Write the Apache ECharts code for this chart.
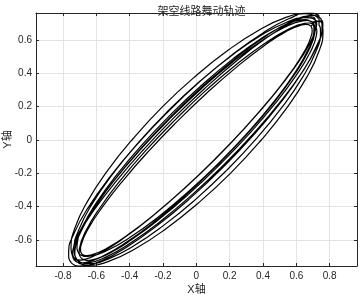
<!DOCTYPE html>
<html><head><meta charset="utf-8">
<script src="https://cdn.jsdelivr.net/npm/echarts@6/dist/echarts.min.js"></script>
<style>html,body{margin:0;padding:0;background:#fff}#c{width:360px;height:297px}</style>
</head><body><div id="c"></div>
<script>
const titleText = '架空线路舞动轨迹';
const xName = 'X轴';
const yName = 'Y轴';
const xTicks = [-0.8, -0.6, -0.4, -0.2, 0, 0.2, 0.4, 0.6, 0.8];
const yTicks = [-0.6, -0.4, -0.2, 0, 0.2, 0.4, 0.6];

const loop1 = [[0.732,0.731],[0.712,0.746],[0.686,0.755],[0.655,0.759],[0.534,0.735],[0.377,0.661],[0.194,0.542],[-0.002,0.386],[-0.198,0.205],[-0.379,0.009],[-0.535,-0.187],[-0.654,-0.370],[-0.728,-0.527],[-0.752,-0.648],[-0.748,-0.679],[-0.739,-0.705],[-0.724,-0.725],[-0.704,-0.740],[-0.678,-0.749],[-0.647,-0.753],[-0.526,-0.729],[-0.369,-0.655],[-0.186,-0.536],[0.010,-0.380],[0.206,-0.199],[0.387,-0.003],[0.543,0.193],[0.662,0.376],[0.736,0.533],[0.760,0.654],[0.756,0.685],[0.747,0.711]];
const loop2 = [[0.736,0.744],[0.719,0.756],[0.696,0.762],[0.668,0.762],[0.554,0.728],[0.402,0.645],[0.221,0.517],[0.026,0.355],[-0.172,0.168],[-0.359,-0.030],[-0.521,-0.225],[-0.649,-0.406],[-0.732,-0.558],[-0.766,-0.672],[-0.766,-0.700],[-0.760,-0.723],[-0.748,-0.740],[-0.731,-0.752],[-0.708,-0.757],[-0.680,-0.756],[-0.566,-0.724],[-0.414,-0.641],[-0.233,-0.513],[-0.038,-0.351],[0.160,-0.164],[0.347,0.034],[0.509,0.229],[0.637,0.410],[0.720,0.562],[0.754,0.676],[0.754,0.704],[0.748,0.727]];
const loop3 = [[0.743,0.733],[0.727,0.744],[0.706,0.749],[0.679,0.748],[0.570,0.712],[0.423,0.628],[0.248,0.501],[0.057,0.340],[-0.137,0.157],[-0.320,-0.037],[-0.481,-0.228],[-0.608,-0.403],[-0.692,-0.550],[-0.728,-0.659],[-0.729,-0.686],[-0.724,-0.707],[-0.713,-0.723],[-0.697,-0.734],[-0.676,-0.739],[-0.649,-0.738],[-0.540,-0.702],[-0.393,-0.618],[-0.218,-0.491],[-0.027,-0.330],[0.167,-0.147],[0.350,0.047],[0.511,0.238],[0.638,0.413],[0.722,0.560],[0.758,0.669],[0.759,0.696],[0.754,0.717]];
const loop4 = [[0.699,0.704],[0.684,0.714],[0.664,0.718],[0.638,0.716],[0.533,0.679],[0.390,0.595],[0.220,0.470],[0.033,0.311],[-0.156,0.131],[-0.336,-0.058],[-0.495,-0.245],[-0.620,-0.415],[-0.704,-0.558],[-0.741,-0.663],[-0.743,-0.689],[-0.739,-0.709],[-0.729,-0.724],[-0.714,-0.734],[-0.694,-0.738],[-0.668,-0.736],[-0.563,-0.699],[-0.420,-0.615],[-0.250,-0.490],[-0.063,-0.331],[0.126,-0.151],[0.306,0.038],[0.465,0.225],[0.590,0.395],[0.674,0.538],[0.711,0.643],[0.713,0.669],[0.709,0.689]];
const loop5 = [[0.710,0.690],[0.696,0.699],[0.676,0.703],[0.651,0.701],[0.549,0.664],[0.410,0.580],[0.244,0.457],[0.061,0.301],[-0.124,0.124],[-0.301,-0.061],[-0.457,-0.244],[-0.580,-0.410],[-0.664,-0.549],[-0.701,-0.651],[-0.703,-0.676],[-0.699,-0.696],[-0.690,-0.710],[-0.676,-0.719],[-0.656,-0.723],[-0.631,-0.721],[-0.529,-0.684],[-0.390,-0.600],[-0.224,-0.477],[-0.041,-0.321],[0.144,-0.144],[0.321,0.041],[0.477,0.224],[0.600,0.390],[0.684,0.529],[0.721,0.631],[0.723,0.656],[0.719,0.676]];
const loop6 = [[0.711,0.731],[0.698,0.739],[0.679,0.742],[0.655,0.739],[0.553,0.697],[0.413,0.608],[0.244,0.478],[0.057,0.316],[-0.134,0.134],[-0.316,-0.057],[-0.478,-0.244],[-0.608,-0.413],[-0.697,-0.553],[-0.739,-0.655],[-0.742,-0.679],[-0.739,-0.698],[-0.731,-0.711],[-0.718,-0.719],[-0.699,-0.722],[-0.675,-0.719],[-0.573,-0.677],[-0.433,-0.588],[-0.264,-0.458],[-0.077,-0.296],[0.114,-0.114],[0.296,0.077],[0.458,0.264],[0.588,0.433],[0.677,0.573],[0.719,0.675],[0.722,0.699],[0.719,0.718]];
const loop7 = [[0.686,0.686],[0.673,0.693],[0.656,0.695],[0.633,0.692],[0.537,0.651],[0.405,0.565],[0.245,0.441],[0.068,0.287],[-0.113,0.113],[-0.287,-0.068],[-0.441,-0.245],[-0.565,-0.405],[-0.651,-0.537],[-0.692,-0.633],[-0.695,-0.656],[-0.693,-0.673],[-0.686,-0.686],[-0.673,-0.693],[-0.656,-0.695],[-0.633,-0.692],[-0.537,-0.651],[-0.405,-0.565],[-0.245,-0.441],[-0.068,-0.287],[0.113,-0.113],[0.287,0.068],[0.441,0.245],[0.565,0.405],[0.651,0.537],[0.692,0.633],[0.695,0.656],[0.693,0.673]];
const loop8 = [[0.724,0.714],[0.706,0.726],[0.682,0.734],[0.653,0.735],[0.539,0.706],[0.389,0.629],[0.212,0.508],[0.021,0.353],[-0.171,0.173],[-0.351,-0.019],[-0.506,-0.210],[-0.627,-0.387],[-0.704,-0.537],[-0.733,-0.651],[-0.732,-0.680],[-0.724,-0.704],[-0.712,-0.722],[-0.694,-0.734],[-0.670,-0.742],[-0.641,-0.743],[-0.527,-0.714],[-0.377,-0.637],[-0.200,-0.516],[-0.009,-0.361],[0.183,-0.181],[0.363,0.011],[0.518,0.202],[0.639,0.379],[0.716,0.529],[0.745,0.643],[0.744,0.672],[0.736,0.696]];
const loop9 = [[0.692,0.709],[0.676,0.718],[0.656,0.723],[0.630,0.722],[0.526,0.688],[0.385,0.607],[0.218,0.486],[0.035,0.332],[-0.150,0.157],[-0.325,-0.028],[-0.479,-0.211],[-0.600,-0.378],[-0.681,-0.519],[-0.715,-0.623],[-0.716,-0.649],[-0.711,-0.669],[-0.702,-0.685],[-0.686,-0.694],[-0.666,-0.699],[-0.640,-0.698],[-0.536,-0.664],[-0.395,-0.583],[-0.228,-0.462],[-0.045,-0.308],[0.140,-0.133],[0.315,0.052],[0.469,0.235],[0.590,0.402],[0.671,0.543],[0.705,0.647],[0.706,0.673],[0.701,0.693]];

const loops = [loop1, loop8, loop2, loop3, loop9, loop4, loop5, loop6, loop7];
const traj = [].concat(...loops, [loop7[0]]);

const FONT = '"Liberation Sans", Arial, "Noto Sans CJK SC", sans-serif';
const AX = '#262626';
const XMIN = -0.962, XMAX = 0.964, YMIN = -0.757, YMAX = 0.763;

function mkAxis(pos, min, max, ticks, main) {
  const horiz = pos === 'bottom' || pos === 'top';
  const a = {
    type: 'value', position: pos, min: min, max: max,
    axisLine: { show: true, onZero: false, lineStyle: { color: AX, width: 1 } },
    axisTick: { show: true, inside: true, length: 3, customValues: ticks, lineStyle: { color: AX, width: 1 } },
    axisLabel: { show: !!main, customValues: ticks, fontSize: 10, color: AX, fontFamily: FONT, margin: horiz ? 5 : 4 },
    splitLine: { show: !!main, lineStyle: { color: '#e3e3e3', width: 1 } },
    z: 0
  };
  if (main) {
    a.name = horiz ? xName : yName;
    a.nameLocation = 'middle';
    a.nameGap = horiz ? 18 : 23;
    a.nameMoveOverlap = false;
    a.nameTextStyle = { fontSize: 11, color: AX, fontFamily: FONT };
  }
  return a;
}

const chart = echarts.init(document.getElementById('c'), null, { renderer: 'canvas' });
chart.setOption({
  backgroundColor: '#ffffff',
  animation: false,
  title: {
    text: titleText, left: 196.5, top: 0, textAlign: 'center',
    textStyle: { fontSize: 11, fontWeight: 'normal', color: AX, fontFamily: '"Noto Sans CJK SC", sans-serif' }
  },
  grid: { left: 36, right: 3, top: 13, bottom: 31, containLabel: false, outerBoundsMode: 'none' },
  xAxis: [mkAxis('bottom', XMIN, XMAX, xTicks, true), mkAxis('top', XMIN, XMAX, xTicks, false)],
  yAxis: [mkAxis('left', YMIN, YMAX, yTicks, true), mkAxis('right', YMIN, YMAX, yTicks, false)],
  series: [{
    type: 'line', data: traj, xAxisIndex: 0, yAxisIndex: 0,
    smooth: 0.5, showSymbol: false, symbol: 'none',
    lineStyle: { color: '#000000', width: 1.2 }, clip: true, z: 3
  }]
});
</script>
</body></html>
